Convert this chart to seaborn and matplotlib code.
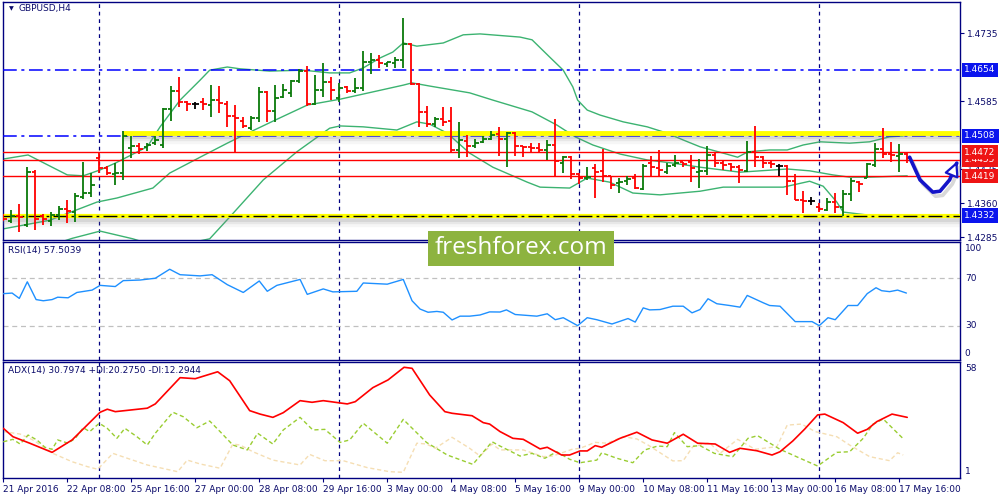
import matplotlib
matplotlib.use('Agg')
import matplotlib.pyplot as plt
import matplotlib.patheffects as pe
from matplotlib.patches import Rectangle
import seaborn as sns

# GBPUSD H4 bars from 21 Apr 2016 00:00 (one entry per bar)
opens = [1.4331, 1.4320, 1.4331, 1.4311, 1.4428, 1.4331, 1.4320, 1.4333, 1.4347, 1.4340,
         1.4373, 1.4382, 1.4459, 1.4437, 1.4424, 1.4426, 1.4482, 1.4486, 1.4484, 1.4492,
         1.4488, 1.4567, 1.4607, 1.4583, 1.4578, 1.4583, 1.4576, 1.4587, 1.4578, 1.4552,
         1.4541, 1.4525, 1.4548, 1.4605, 1.4563, 1.4594, 1.4603, 1.4629, 1.4651, 1.4578,
         1.4609, 1.4627, 1.4592, 1.4616, 1.4607, 1.4614, 1.4671, 1.4675, 1.4667, 1.4669,
         1.4675, 1.4711, 1.4622, 1.4561, 1.4534, 1.4545, 1.4541, 1.4477, 1.4497, 1.4486,
         1.4495, 1.4501, 1.4512, 1.4501, 1.4514, 1.4486, 1.4484, 1.4482, 1.4477, 1.4488,
         1.4448, 1.4461, 1.4424, 1.4415, 1.4437, 1.4431, 1.4420, 1.4404, 1.4408, 1.4415,
         1.4391, 1.4448, 1.4437, 1.4428, 1.4444, 1.4450, 1.4450, 1.4428, 1.4431, 1.4466,
         1.4448, 1.4446, 1.4439, 1.4431, 1.4473, 1.4461, 1.4448, 1.4442, 1.4442, 1.4408,
         1.4367, 1.4364, 1.4351, 1.4345, 1.4362, 1.4351, 1.4380, 1.4406, 1.4415, 1.4444,
         1.4479, 1.4468, 1.4464, 1.4468]
highs = [1.4336, 1.4345, 1.4358, 1.4439, 1.4433, 1.4336, 1.4340, 1.4353, 1.4367, 1.4382,
         1.4450, 1.4426, 1.4470, 1.4442, 1.4448, 1.4519, 1.4508, 1.4492, 1.4492, 1.4508,
         1.4570, 1.4618, 1.4638, 1.4585, 1.4583, 1.4592, 1.4620, 1.4618, 1.4585, 1.4576,
         1.4550, 1.4552, 1.4616, 1.4607, 1.4620, 1.4622, 1.4631, 1.4656, 1.4662, 1.4642,
         1.4669, 1.4638, 1.4625, 1.4618, 1.4636, 1.4695, 1.4691, 1.4686, 1.4671, 1.4682,
         1.4768, 1.4713, 1.4625, 1.4574, 1.4550, 1.4572, 1.4572, 1.4539, 1.4510, 1.4501,
         1.4508, 1.4519, 1.4528, 1.4517, 1.4517, 1.4486, 1.4492, 1.4492, 1.4499, 1.4545,
         1.4464, 1.4464, 1.4426, 1.4439, 1.4446, 1.4479, 1.4420, 1.4415, 1.4420, 1.4424,
         1.4446, 1.4464, 1.4477, 1.4448, 1.4466, 1.4450, 1.4466, 1.4457, 1.4486, 1.4470,
         1.4455, 1.4448, 1.4444, 1.4497, 1.4530, 1.4464, 1.4453, 1.4446, 1.4444, 1.4424,
         1.4386, 1.4373, 1.4360, 1.4371, 1.4382, 1.4389, 1.4415, 1.4408, 1.4448, 1.4492,
         1.4525, 1.4495, 1.4490, 1.4470]
lows = [1.4320, 1.4316, 1.4296, 1.4307, 1.4300, 1.4311, 1.4309, 1.4322, 1.4316, 1.4318,
        1.4369, 1.4373, 1.4426, 1.4422, 1.4400, 1.4411, 1.4459, 1.4468, 1.4475, 1.4488,
        1.4482, 1.4541, 1.4572, 1.4563, 1.4567, 1.4565, 1.4550, 1.4559, 1.4528, 1.4473,
        1.4525, 1.4521, 1.4539, 1.4539, 1.4539, 1.4592, 1.4594, 1.4625, 1.4574, 1.4576,
        1.4594, 1.4587, 1.4583, 1.4603, 1.4603, 1.4607, 1.4645, 1.4658, 1.4660, 1.4658,
        1.4658, 1.4620, 1.4528, 1.4528, 1.4528, 1.4530, 1.4470, 1.4459, 1.4461, 1.4482,
        1.4492, 1.4499, 1.4464, 1.4439, 1.4464, 1.4461, 1.4473, 1.4473, 1.4455, 1.4417,
        1.4426, 1.4413, 1.4402, 1.4411, 1.4371, 1.4406, 1.4391, 1.4382, 1.4400, 1.4391,
        1.4389, 1.4417, 1.4417, 1.4424, 1.4439, 1.4439, 1.4406, 1.4393, 1.4422, 1.4439,
        1.4433, 1.4431, 1.4404, 1.4428, 1.4439, 1.4437, 1.4437, 1.4420, 1.4378, 1.4367,
        1.4338, 1.4356, 1.4340, 1.4342, 1.4338, 1.4331, 1.4364, 1.4384, 1.4415, 1.4439,
        1.4459, 1.4450, 1.4428, 1.4448]
closes = [1.4325, 1.4331, 1.4329, 1.4428, 1.4325, 1.4325, 1.4333, 1.4347, 1.4342, 1.4375,
          1.4382, 1.4400, 1.4437, 1.4426, 1.4426, 1.4508, 1.4486, 1.4479, 1.4488, 1.4499,
          1.4567, 1.4607, 1.4583, 1.4578, 1.4578, 1.4578, 1.4587, 1.4581, 1.4552, 1.4548,
          1.4530, 1.4548, 1.4605, 1.4563, 1.4592, 1.4609, 1.4629, 1.4651, 1.4578, 1.4609,
          1.4627, 1.4609, 1.4614, 1.4607, 1.4614, 1.4671, 1.4675, 1.4669, 1.4671, 1.4675,
          1.4711, 1.4622, 1.4561, 1.4534, 1.4545, 1.4539, 1.4477, 1.4499, 1.4486, 1.4492,
          1.4501, 1.4510, 1.4501, 1.4514, 1.4486, 1.4484, 1.4482, 1.4477, 1.4488, 1.4453,
          1.4461, 1.4424, 1.4415, 1.4417, 1.4428, 1.4420, 1.4400, 1.4406, 1.4413, 1.4393,
          1.4442, 1.4439, 1.4433, 1.4442, 1.4448, 1.4446, 1.4437, 1.4431, 1.4466, 1.4448,
          1.4444, 1.4439, 1.4433, 1.4473, 1.4461, 1.4448, 1.4446, 1.4442, 1.4408, 1.4367,
          1.4364, 1.4364, 1.4347, 1.4362, 1.4351, 1.4380, 1.4408, 1.4402, 1.4446, 1.4479,
          1.4468, 1.4466, 1.4468, 1.4459]

# Bollinger bands (bar position, price)
bb_up_x = [0, 3.1, 8, 10, 12.1, 14, 18, 19.6, 22.1, 24.6, 25.8, 28, 29.6, 33.3, 37.5, 40.8,
           43.3, 45, 47.1, 48.7, 50, 51.7, 55, 57.5, 59.6, 64.6, 66.1, 68.3, 70, 71.2, 71.8,
           73, 74.6, 77.5, 80.5, 83, 85, 87.1, 90, 91.8, 93.1, 95.8, 98, 100, 102.1, 105.8,
           108.3, 110.8, 112.5]
bb_up_y = [1.4457, 1.4466, 1.4422, 1.4420, 1.4433, 1.4448, 1.4484, 1.4528, 1.4587, 1.4631,
           1.4653, 1.4660, 1.4656, 1.4651, 1.4653, 1.4647, 1.4647, 1.4658, 1.4680, 1.4693,
           1.4713, 1.4706, 1.4713, 1.4731, 1.4733, 1.4726, 1.4720, 1.4682, 1.4653, 1.4616,
           1.4587, 1.4565, 1.4554, 1.4539, 1.4528, 1.4514, 1.4499, 1.4484, 1.4470, 1.4461,
           1.4473, 1.4477, 1.4477, 1.4488, 1.4495, 1.4492, 1.4495, 1.4506, 1.4508]
bb_mid_x = [0, 5.8, 11.7, 14.2, 18.7, 20.8, 24.6, 28, 29.6, 34, 38, 42.1, 50, 51.1, 53.3,
            58.3, 61.2, 66.1, 69.2, 71.5, 73.7, 77.1, 80.5, 83.7, 87.1, 92.1, 98, 100.8,
            103.7, 105.8, 108.3, 113]
bb_mid_y = [1.4303, 1.4322, 1.4362, 1.4371, 1.4393, 1.4426, 1.4461, 1.4492, 1.4506, 1.4543,
            1.4576, 1.4589, 1.4620, 1.4625, 1.4618, 1.4603, 1.4587, 1.4561, 1.4532, 1.4506,
            1.4488, 1.4468, 1.4455, 1.4448, 1.4439, 1.4428, 1.4435, 1.4431, 1.4422, 1.4417,
            1.4417, 1.4420]
bb_low_x = [0, 4, 8.6, 12.1, 16.2, 20, 25.8, 28.3, 32.5, 36.7, 40.8, 42.1, 45, 49.2, 51.7,
            53.3, 55.5, 58.3, 61.2, 65.5, 67.1, 70.8, 73, 75.8, 78.7, 82.1, 87.1, 90, 97.5,
            100.8, 102.5, 104.2, 105, 108.3, 111.7]
bb_low_y = [1.4230, 1.4255, 1.4282, 1.4298, 1.4281, 1.4260, 1.4281, 1.4329, 1.4411, 1.4473,
            1.4525, 1.4530, 1.4528, 1.4521, 1.4539, 1.4534, 1.4514, 1.4470, 1.4439, 1.4406,
            1.4395, 1.4393, 1.4415, 1.4406, 1.4382, 1.4378, 1.4386, 1.4395, 1.4395, 1.4408,
            1.4397, 1.4362, 1.4340, 1.4333, 1.4331]

# RSI(14)
rsi_x = [0, 1.1, 2, 3, 4.1, 5, 6.1, 6.8, 8.1, 9.2, 11.1, 12.1, 14, 15, 17.1, 19, 20.8, 22.1,
         24.6, 26.1, 28, 30, 32, 33, 34.2, 37.1, 38, 40, 41.2, 44.2, 45, 48, 50, 51.1, 52.1,
         53.1, 54.2, 55, 56.1, 57.1, 58.3, 59.6, 60.8, 62.1, 62.9, 64, 66.7, 68, 69, 70, 71.8,
         73, 74.2, 76.1, 76.8, 78.1, 79, 80, 80.8, 82.1, 83.7, 85, 86.1, 87.1, 88.1, 89.2,
         90.8, 92.1, 93, 95, 95.8, 97.1, 99, 101.1, 102, 103.1, 104, 105.6, 106.8, 108,
         109.1, 109.8, 110.8, 111.8, 112.9]
rsi_y = [57, 57.5, 53, 67, 52, 51, 52, 54, 53.5, 58, 60, 64, 63, 68, 68.5, 70, 77.6, 73, 72,
         73, 64.6, 58, 67.7, 59, 64, 69, 56.4, 61, 58.5, 59, 66, 65, 69, 51, 44, 41.3, 42,
         41.3, 34.8, 38, 38, 39, 41.6, 41.5, 43.3, 39.4, 38, 40, 35, 36.7, 30, 36.7, 35,
         31.4, 33, 36, 33, 45, 43.3, 43.6, 46.4, 46.4, 40.8, 43.6, 52.7, 48.5, 47, 45.6,
         55.5, 49.3, 47, 46.4, 33.4, 33.4, 30, 36.7, 35, 47, 47, 57, 62, 59.5, 58.7, 60,
         57.5]

# ADX(14), +DI, -DI
adx_x = [0, 1.2, 3.3, 6.1, 8.6, 12.1, 13, 14, 18, 19, 22.1, 24, 26.8, 28.3, 30.8, 32.1,
         33.7, 35, 37.1, 38.6, 40, 43, 44, 46.2, 48.1, 50.1, 51.1, 53.3, 55.2, 56.1, 58.6,
         60, 60.8, 62.1, 63.7, 65, 67.1, 68, 69.8, 70.8, 72.1, 73, 74, 74.8, 77.1, 79.2,
         81.1, 83, 85, 86.8, 89, 90.8, 92.1, 94.2, 96.1, 97.1, 98.7, 100.2, 101.8, 102.7,
         105, 106.8, 108, 109.2, 111.1, 113]
adx_y = [25.4, 21.3, 18.1, 13.6, 19.7, 33.3, 34.8, 33.6, 35.3, 37.4, 50.3, 49.8, 53.2, 48.8,
         34.1, 32.4, 30.8, 33.1, 39.0, 38.2, 39.0, 37.4, 38.5, 45.4, 49.2, 55.4, 54.9, 41.8,
         33.6, 32.8, 31.6, 28.2, 27.5, 23.8, 20.5, 20.0, 15.3, 16.1, 12.3, 12.3, 14.3, 14.3,
         16.9, 16.1, 20.5, 23.5, 19.7, 18.1, 22.5, 18.1, 17.7, 13.6, 15.6, 14.4, 12.3, 13.9,
         19.2, 25.1, 32.0, 32.4, 28.2, 23.0, 24.9, 28.7, 32.4, 30.8]
pdi_x = [0, 1.2, 2.1, 3.1, 4.2, 5.2, 6.1, 6.8, 8.1, 9, 10, 10.8, 12, 13, 14.2, 15.2, 16.7,
         18, 19, 21.2, 22.5, 24.2, 25.8, 27.1, 28.7, 30.5, 31.8, 33.7, 35, 37.1, 38.7, 40.2,
         42.1, 43.3, 45, 48, 50, 52.9, 55.5, 58.7, 61.1, 62.1, 64.6, 66.1, 67.7, 69.2, 70.8,
         72.1, 74.2, 74.8, 76.7, 78.7, 80.2, 81.8, 83, 83.9, 85.5, 87.1, 88.9, 91.2, 93.1,
         94.3, 97.1, 99.6, 101.8, 104.2, 105.8, 107.5, 108.7, 110, 112.5]
pdi_y = [18.8, 20.0, 17.7, 22.1, 19.7, 16.1, 15.1, 19.7, 18.1, 20.5, 25.7, 23.8, 27.9, 25.4,
         20.5, 25.4, 21.3, 17.2, 23.0, 33.3, 31.1, 25.7, 29.0, 23.8, 17.2, 14.8, 23.0, 17.7,
         24.6, 30.8, 24.6, 24.9, 18.5, 19.7, 27.9, 18.1, 29.8, 18.5, 12.3, 7.7, 18.8, 16.7,
         11.8, 13.1, 10.7, 13.9, 10.2, 8.5, 9.8, 13.4, 10.7, 8.5, 14.8, 16.7, 16.4, 23.3,
         16.4, 16.9, 13.1, 11.5, 20.5, 21.8, 15.1, 10.7, 6.9, 13.6, 13.9, 20.5, 27.4, 30.0,
         20.3]
mdi_x = [0, 2.1, 3.7, 6.2, 8.6, 10.5, 11.8, 13.7, 15.5, 18, 21.8, 23, 24.6, 27.1, 28.7,
         29.6, 31.2, 33.7, 37.1, 38.3, 40.2, 42.5, 45.5, 48.3, 50, 51.7, 52.9, 54, 56.1, 58.3,
         59.6, 61.1, 62.1, 65, 67.5, 68.7, 71.1, 72.1, 74, 75.5, 77.5, 79.2, 80.6, 83.7, 85,
         86.2, 88.3, 89.6, 91.8, 94, 96.7, 98, 99.8, 101.5, 104.2, 105.8, 108.3, 110.8,
         111.8, 112.5]
mdi_y = [23.8, 22.6, 19.7, 13.1, 9.0, 6.6, 5.3, 13.1, 10.7, 7.4, 4.1, 9.8, 7.9, 5.8, 17.7,
         17.2, 13.9, 9.8, 7.4, 12.6, 9.5, 9.5, 6.1, 4.1, 3.8, 18.1, 17.7, 15.6, 21.0, 15.6,
         11.8, 17.7, 14.8, 14.8, 11.5, 11.8, 15.1, 15.6, 18.5, 18.1, 21.3, 20.2, 17.2, 9.4,
         9.5, 16.4, 18.3, 13.1, 20.0, 15.1, 16.4, 27.0, 27.5, 23.8, 21.3, 17.2, 11.5, 9.5,
         13.4, 12.3]

# drawn objects on the chart
red_levels = [1.4472, 1.4455, 1.4419]
blue_levels = [1.4654, 1.4508]
zone_top = 1.4514
zone_top_start = 15
zone_bottom = 1.4332
week_starts = [12, 42, 72, 102]
forecast_x = [113.3, 114.6, 116.2, 117.1, 118.3, 119.2]
forecast_y = [1.4461, 1.4411, 1.4384, 1.4386, 1.4411, 1.4448]

# axis labels
price_ticks = [1.4735, 1.4585, 1.4435, 1.4360, 1.4285]
boxed_prices = [(1.4654, 'blue'), (1.4508, 'blue'), (1.4455, 'red'), (1.4472, 'red'),
                (1.4419, 'red'), (1.4332, 'blue')]
date_labels = ['21 Apr 2016', '22 Apr 08:00', '25 Apr 16:00', '27 Apr 00:00', '28 Apr 08:00',
               '29 Apr 16:00', '3 May 00:00', '4 May 08:00', '5 May 16:00', '9 May 00:00',
               '10 May 08:00', '11 May 16:00', '13 May 00:00', '16 May 08:00', '17 May 16:00']

sns.set_style('white')
plt.rcParams['font.family'] = ['DejaVu Sans']

navy = '#000080'
txt = '#0b0b6b'
fs = 6.5
box_colors = {'blue': '#0a14ee', 'red': '#ee1414'}

fig = plt.figure(figsize=(10, 5), dpi=100)
ax = fig.add_axes([0.0025, 0.52, 0.9575, 0.476])
ax_rsi = fig.add_axes([0.0025, 0.28, 0.9575, 0.236])
ax_adx = fig.add_axes([0.0025, 0.044, 0.9575, 0.232])

for a in (ax, ax_rsi, ax_adx):
    a.set_xlim(-0.1, 119.6)
    a.set_facecolor('white')
    for s in a.spines.values():
        s.set_color(navy)
        s.set_linewidth(1.0)
    for w in week_starts:
        a.axvline(w, color=navy, ls=(0, (3, 3)), lw=0.9, zorder=1)
    a.tick_params(left=False, bottom=False, labelleft=False, labelbottom=False)

# ---- main price panel
ax.set_ylim(1.42784, 1.48034)
bands = [(bb_up_x, bb_up_y), (bb_mid_x, bb_mid_y), (bb_low_x, bb_low_y)]
for bx, by in bands:
    sns.lineplot(x=bx, y=by, ax=ax, color='#3cb371', lw=1.0, estimator=None, zorder=2)

# soft grey glow under the yellow zone lines
shadow = [pe.SimpleLineShadow(offset=(0, -1.5), shadow_color='#808080', alpha=0.16, linewidth=5),
          pe.SimpleLineShadow(offset=(0, -3), shadow_color='#808080', alpha=0.12, linewidth=6),
          pe.SimpleLineShadow(offset=(0, -5), shadow_color='#808080', alpha=0.07, linewidth=6),
          pe.Normal()]
for lv in blue_levels:
    ax.axhline(lv, color='#0000ff', lw=1.1, ls=(0, (9, 3, 2, 3)), zorder=3)
ax.hlines(zone_top, zone_top_start, 119.6, color='#ffff00', lw=3.5, zorder=3,
          path_effects=shadow)
ax.axhline(zone_bottom, color='#ffff00', lw=3.0, zorder=3, path_effects=shadow)
ax.axhline(zone_bottom, color='black', lw=1.0, ls=(0, (10, 3, 2, 3)), zorder=3)
for lv in red_levels:
    ax.axhline(lv, color='#ff0000', lw=1.0, zorder=3)

idx = list(range(len(opens)))
bar_colors = ['#0a7a0a' if c > o else ('#ff0000' if c < o else 'black')
              for o, c in zip(opens, closes)]
ax.vlines(idx, lows, highs, colors=bar_colors, lw=1.3, zorder=4)
ax.hlines(opens, [i - 0.45 for i in idx], idx, colors=bar_colors, lw=1.3, zorder=4)
ax.hlines(closes, idx, [i + 0.45 for i in idx], colors=bar_colors, lw=1.3, zorder=4)

arrow_fx = [pe.SimpleLineShadow(offset=(2, -3), shadow_color='#808080', alpha=0.3),
            pe.Normal()]
ax.plot(forecast_x, forecast_y, color='#1414c8', lw=2.6, zorder=6, clip_on=False,
        path_effects=arrow_fx)
ax.annotate('', xy=(forecast_x[-1] + 0.2, forecast_y[-1] + 0.0010),
            xytext=(forecast_x[-2], forecast_y[-2]),
            arrowprops=dict(arrowstyle='-|>,head_width=0.45,head_length=0.9',
                            fc='white', ec='#1414c8', lw=1.6),
            annotation_clip=False, zorder=6)

ax.yaxis.tick_right()
ax.set_yticks(price_ticks)
ax.set_yticklabels(['%.4f' % p for p in price_ticks])
ax.tick_params(axis='y', right=True, labelright=True, length=3, width=0.8, color=navy,
               labelsize=fs, labelcolor=txt, pad=2)
for p, c in boxed_prices:
    ax.text(1.0045, p, '%.4f' % p, transform=ax.get_yaxis_transform(), ha='left',
            va='center', fontsize=fs, color='white', zorder=10, clip_on=False,
            bbox=dict(boxstyle='square,pad=0.3', fc=box_colors[c], ec='none'))

ax.text(0.007, 0.972, '\u25bc', transform=ax.transAxes, fontsize=4.5, color=txt, va='center')
ax.text(0.0165, 0.972, 'GBPUSD,H4', transform=ax.transAxes, fontsize=fs, color=txt,
        va='center')

# ---- RSI panel
ax_rsi.set_ylim(1, 100.6)
for lv in (70, 30):
    ax_rsi.axhline(lv, color='#c0c0c0', lw=0.9, ls=(0, (4, 3)), zorder=1)
sns.lineplot(x=rsi_x, y=rsi_y, ax=ax_rsi, color='#1e90ff', lw=1.0, estimator=None, zorder=3)
ax_rsi.text(0.006, 0.93, 'RSI(14) 57.5039', transform=ax_rsi.transAxes, fontsize=fs,
            color=txt, va='center')
ax_rsi.text(1.005, 0.985, '100', transform=ax_rsi.transAxes, fontsize=fs, color=txt,
            va='top', clip_on=False)
ax_rsi.text(1.005, 0.02, '0', transform=ax_rsi.transAxes, fontsize=fs, color=txt,
            va='bottom', clip_on=False)
for lv in (70, 30):
    ax_rsi.text(1.005, lv, str(lv), transform=ax_rsi.get_yaxis_transform(), fontsize=fs,
                color=txt, va='center', clip_on=False)

# ---- ADX panel
ax_adx.set_ylim(1, 58)
sns.lineplot(x=mdi_x, y=mdi_y, ax=ax_adx, color='#f5deb3', lw=1.0, ls=(0, (3, 2)),
             estimator=None, zorder=2)
sns.lineplot(x=pdi_x, y=pdi_y, ax=ax_adx, color='#9acd32', lw=1.0, ls=(0, (3, 2)),
             estimator=None, zorder=3)
sns.lineplot(x=adx_x, y=adx_y, ax=ax_adx, color='#ff0000', lw=1.2, estimator=None, zorder=4)
ax_adx.text(0.006, 0.925, 'ADX(14) 30.7974 +DI:20.2750 -DI:12.2944',
            transform=ax_adx.transAxes, fontsize=fs, color=txt, va='center')
ax_adx.text(1.005, 0.985, '58', transform=ax_adx.transAxes, fontsize=fs, color=txt,
            va='top', clip_on=False)
ax_adx.text(1.005, 0.02, '1', transform=ax_adx.transAxes, fontsize=fs, color=txt,
            va='bottom', clip_on=False)

ax_adx.set_xticks(list(range(0, 8 * len(date_labels), 8)))
ax_adx.set_xticklabels(date_labels, ha='left')
ax_adx.tick_params(axis='x', bottom=True, labelbottom=True, length=3, width=0.8,
                   color=navy, labelsize=fs, labelcolor=txt, pad=2)
for a in (ax, ax_rsi, ax_adx):
    a.set_xlabel('')
    a.set_ylabel('')

# watermark
fig.patches.append(Rectangle((0.428, 0.468), 0.186, 0.07, transform=fig.transFigure,
                             fc='#8db33f', ec='none', zorder=20))
fig.text(0.521, 0.503, 'freshforex.com', ha='center', va='center', color='white',
         fontsize=17.5, family=['Open Sans', 'DejaVu Sans'], zorder=21)

fig.savefig('out.png', dpi=100)
